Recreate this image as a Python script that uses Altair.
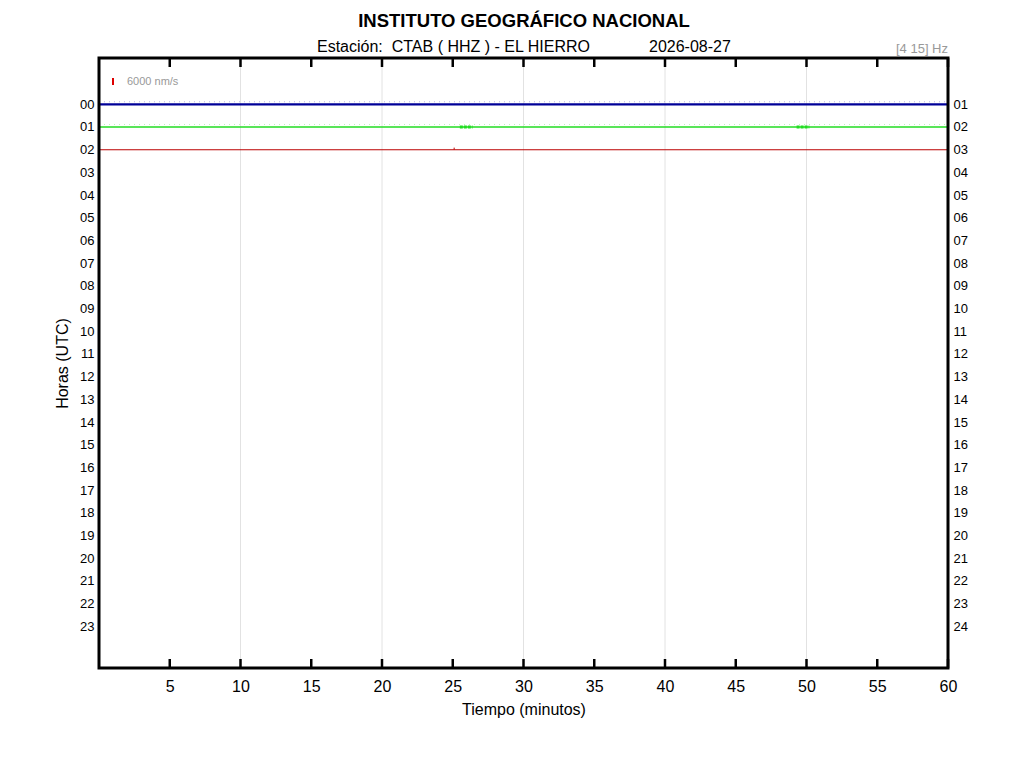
import altair as alt
import pandas as pd

# --- header texts ---
title_text = "INSTITUTO GEOGRÁFICO NACIONAL"
station_text = "Estación:\u00a0\u00a0CTAB ( HHZ ) - EL HIERRO"
date_text = "2026-08-27"
filter_text = "[4 15] Hz"
scale_text = "6000 nm/s"

# --- axes ---
hour_ticks = list(range(24))
minute_ticks = [5, 10, 15, 20, 25, 30, 35, 40, 45, 50, 55, 60]
grid_minutes = [10, 20, 30, 40, 50]

# --- helicorder traces (one line per recorded hour) ---
trace_hours = [0, 1, 2]
trace_colors = ["#000099", "#22dd22", "#bb0000"]
trace_widths = [2.2, 1.7, 1.1]
trace_start = [0, 0, 0]
trace_end = [60, 60, 60]

# noisier stretches on the green trace (minutes)
burst_hour = [1, 1]
burst_start = [25.5, 49.3]
burst_end = [26.4, 50.2]

# small spike on the red trace
spike_minute = [25.1]
spike_hour = [2]
spike_top = [1.91]

W, H = 849, 610

x_scale = alt.Scale(domain=[0, 60], nice=False, zero=False)
y_scale = alt.Scale(domain=[-2.04, 24.84], reverse=True, nice=False, zero=False)

x_axis = alt.Axis(values=minute_ticks, ticks=False, domain=False, grid=False,
                  labelFontSize=16, labelPadding=10, labelFlush=False,
                  labelColor="black", title="Tiempo (minutos)", titleFontSize=16,
                  titleFontWeight="normal", titleColor="black", titlePadding=7)

left_axis = alt.Axis(values=hour_ticks, format="02d", ticks=False, domain=False,
                     grid=False, labelFontSize=13, labelPadding=5, labelFlush=False,
                     labelColor="black", title="Horas (UTC)", titleFontSize=16,
                     titleFontWeight="normal", titleColor="black", titlePadding=9)

right_axis = alt.Axis(values=hour_ticks, orient="right",
                      labelExpr="format(datum.value + 1, '02d')", ticks=False,
                      domain=False, grid=False, labelFontSize=13, labelPadding=5,
                      labelFlush=False, labelColor="black", title=None)

grid = alt.Chart(pd.DataFrame({"m": grid_minutes})).mark_rule(
    color="#e2e2e2", strokeWidth=1
).encode(
    x=alt.X("m:Q", scale=x_scale, axis=x_axis),
    y=alt.value(0), y2=alt.value(H)
)

ticks_df = pd.DataFrame({"m": minute_ticks})
top_ticks = alt.Chart(ticks_df).mark_rule(color="black", strokeWidth=2.5).encode(
    x=alt.X("m:Q", scale=x_scale, axis=x_axis),
    y=alt.value(0), y2=alt.value(9)
)
bottom_ticks = alt.Chart(ticks_df).mark_rule(color="black", strokeWidth=2.5).encode(
    x=alt.X("m:Q", scale=x_scale, axis=x_axis),
    y=alt.value(H - 9), y2=alt.value(H)
)

traces_df = pd.DataFrame({
    "hour": trace_hours, "start": trace_start, "end": trace_end,
    "color": trace_colors, "width": trace_widths,
})
traces = alt.Chart(traces_df).mark_rule().encode(
    x=alt.X("start:Q", scale=x_scale, axis=x_axis),
    x2="end:Q",
    y=alt.Y("hour:Q", scale=y_scale, axis=left_axis),
    color=alt.Color("color:N", scale=None),
    strokeWidth=alt.StrokeWidth("width:Q", scale=None),
)

# faint speckle just above the blue and green traces
speckle = alt.Chart(traces_df.iloc[:2]).mark_rule(
    strokeDash=[1, 4], opacity=0.3, strokeWidth=1
).encode(
    x=alt.X("start:Q", scale=x_scale, axis=x_axis),
    x2="end:Q",
    y=alt.Y("hour:Q", scale=y_scale, axis=None),
    color=alt.Color("color:N", scale=None),
    yOffset=alt.value(-2.5),
)

bursts = alt.Chart(pd.DataFrame({
    "hour": burst_hour, "start": burst_start, "end": burst_end
})).mark_rule(color="#22dd22", strokeWidth=3, strokeDash=[3, 1]).encode(
    x=alt.X("start:Q", scale=x_scale, axis=x_axis),
    x2="end:Q",
    y=alt.Y("hour:Q", scale=y_scale, axis=None),
)

spikes = alt.Chart(pd.DataFrame({
    "m": spike_minute, "hour": spike_hour, "top": spike_top
})).mark_rule(color="#bb0000", strokeWidth=1).encode(
    x=alt.X("m:Q", scale=x_scale, axis=x_axis),
    y=alt.Y("hour:Q", scale=y_scale, axis=None),
    y2="top:Q",
)

right_labels = alt.Chart(pd.DataFrame({"h": hour_ticks})).mark_point(opacity=0).encode(
    x=alt.value(0),
    y=alt.Y("h:Q", scale=y_scale, axis=right_axis),
)

frame = alt.Chart(pd.DataFrame({"a": [0]})).mark_rect(
    filled=False, stroke="black", strokeWidth=3
).encode(
    x=alt.value(0), x2=alt.value(W), y=alt.value(0), y2=alt.value(H)
)


def label(txt, x, y, size, align="left", color="black", weight="normal"):
    return alt.Chart(pd.DataFrame({"t": [txt]})).mark_text(
        align=align, baseline="middle", fontSize=size, color=color, fontWeight=weight
    ).encode(text="t:N", x=alt.value(x), y=alt.value(y))


title = label(title_text, 425, -37, 18.5, align="center", weight="bold")
station = label(station_text, 218, -11, 16)
date = label(date_text, 550, -11, 16)
filt = label(filter_text, W, -9, 13, align="right", color="#999999")
scale_lbl = label(scale_text, 28, 24, 11, color="#999999")

scale_bar = alt.Chart(pd.DataFrame({"a": [0]})).mark_rule(
    color="#dd0000", strokeWidth=2
).encode(x=alt.value(14), y=alt.value(20), y2=alt.value(27))

chart = alt.layer(
    grid, top_ticks, bottom_ticks, speckle, traces, bursts, spikes,
    right_labels, frame, title, station, date, filt, scale_lbl, scale_bar
).resolve_axis(
    y="independent"
).properties(
    width=W, height=H,
    autosize=alt.AutoSizeParams(type="none"),
    padding={"left": 91, "top": 50, "right": 68, "bottom": 92},
).configure(
    font="Liberation Sans"
).configure_view(
    stroke=None
)

chart.save("out.html", embed_options={"renderer": "svg", "actions": False})
